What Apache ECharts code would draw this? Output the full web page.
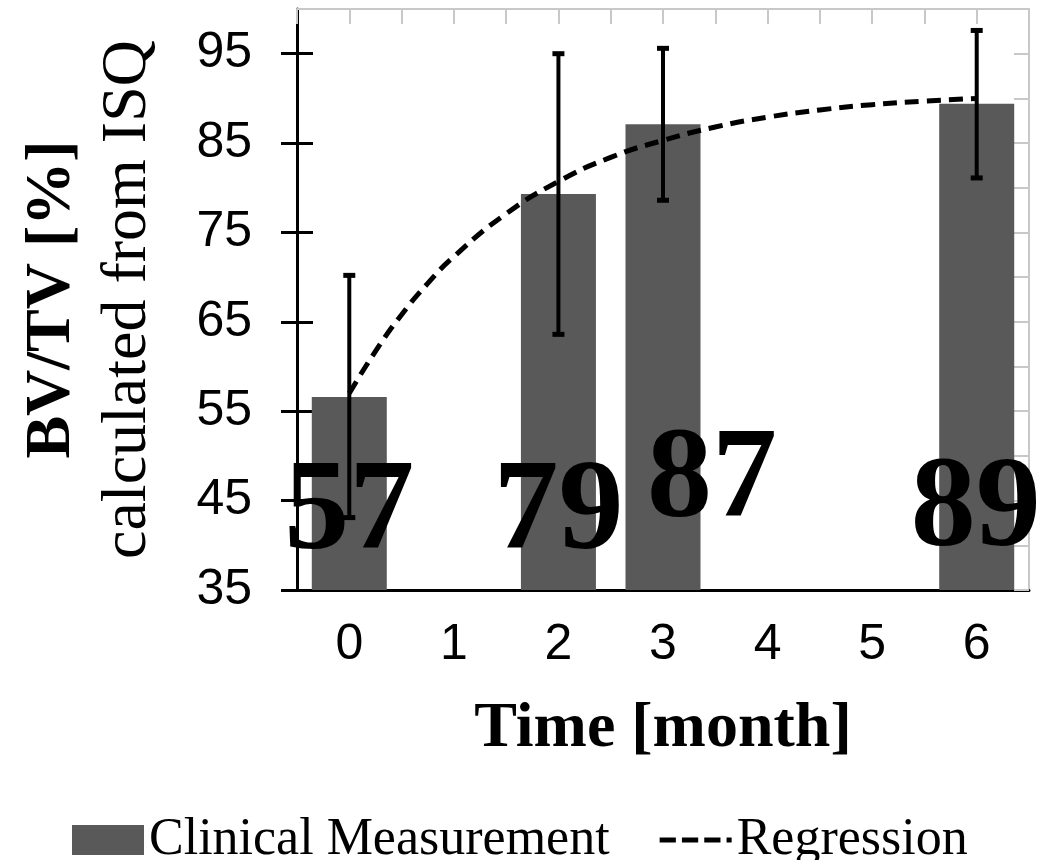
<!DOCTYPE html>
<html>
<head>
<meta charset="utf-8">
<script src="https://cdn.jsdelivr.net/npm/echarts@6/dist/echarts.min.js"></script>
<style>
html,body{margin:0;padding:0;background:#fff;}
#chart{width:1056px;height:860px;}
</style>
</head>
<body>
<div id="chart"></div>
<script>
// ---- data ----
var months = ['0', '1', '2', '3', '4', '5', '6'];
var clinical = [56.6, null, 79.3, 87.1, null, null, 89.4];
var errLow   = [43.1, null, 63.6, 78.6, null, null, 81.1];
var errHigh  = [70.2, null, 95.0, 95.6, null, null, 97.6];
var regX = [0, 0.25, 0.5, 0.75, 1, 1.5, 2, 2.5, 3, 3.5, 4, 4.5, 5, 5.5, 6];
var regY = [57.0, 61.7, 65.8, 69.3, 72.3, 77.1, 80.7, 83.4, 85.3, 86.8, 87.9, 88.7, 89.3, 89.7, 90.0];
var yTicks = [35, 45, 55, 65, 75, 85, 95];

// ---- presentation ----
var SANS = "'Liberation Sans', Arial, sans-serif";
var SERIF = "'Liberation Serif', 'Times New Roman', serif";
var labelShift = [[0, -11], null, [0, -11], [49, -43], null, null, [-1, -14]];
var dashIcon = 'path://M0,0h16v5h-16z M22,0h16v5h-16z M44,0h16v5h-16z M66,0h5v5h-5z';

var barData = clinical.map(function (v, i) {
  if (v === null) return null;
  return { value: v, label: { offset: labelShift[i] } };
});
var errData = [];
for (var i = 0; i < months.length; i++) {
  if (errLow[i] !== null) errData.push([i, errLow[i], errHigh[i]]);
}
var regData = regX.map(function (x, i) { return [x, regY[i]]; });

var chart = echarts.init(document.getElementById('chart'));
chart.setOption({
  animation: false,
  backgroundColor: '#fff',
  grid: { left: 297, right: 27, top: 9, bottom: 270 },
  legend: {
    left: 67, top: 809,
    itemWidth: 72, itemHeight: 30, itemGap: 50,
    textStyle: { fontFamily: SERIF, fontSize: 52, color: '#000' },
    data: [
      { name: 'Clinical Measurement', icon: 'rect' },
      { name: 'Regression', icon: dashIcon }
    ]
  },
  xAxis: [
    {
      type: 'category', data: months, position: 'bottom',
      axisLine: { onZero: false, lineStyle: { color: '#000', width: 3 } },
      axisTick: { show: false },
      axisLabel: { fontFamily: SANS, fontSize: 50, color: '#000', margin: 30 },
      name: 'Time [month]', nameLocation: 'middle', nameGap: 107,
      nameTextStyle: { fontFamily: SERIF, fontSize: 64, fontWeight: 'bold', color: '#000' },
      splitLine: { show: false }
    },
    {
      type: 'value', position: 'top', min: -0.5, max: 6.5, interval: 0.5,
      axisLine: { show: true, onZero: false, lineStyle: { color: '#c8c8c8', width: 2 } },
      axisTick: { show: true, inside: true, length: 15, lineStyle: { color: '#c8c8c8', width: 2 } },
      axisLabel: { show: false },
      splitLine: { show: false }
    }
  ],
  yAxis: [
    {
      type: 'value', position: 'left', min: 35, max: 100,
      axisLine: { show: true, onZero: false, lineStyle: { color: '#000', width: 3 } },
      axisTick: { show: true, length: 16, customValues: yTicks, lineStyle: { color: '#000', width: 3 } },
      axisLabel: { fontFamily: SANS, fontSize: 50, color: '#000', margin: 45, customValues: yTicks },
      splitLine: { show: false },
      name: '{b|BV/TV [%]}\n{n|calculated from ISQ}',
      nameLocation: 'middle', nameRotate: 90, nameGap: 131,
      nameTextStyle: {
        color: '#000', lineHeight: 76,
        rich: {
          b: { fontFamily: SERIF, fontSize: 64, fontWeight: 'bold', color: '#000', lineHeight: 76 },
          n: { fontFamily: SERIF, fontSize: 64, color: '#000', lineHeight: 76 }
        }
      }
    },
    {
      type: 'value', position: 'right', min: 35, max: 100, interval: 5,
      axisLine: { show: true, onZero: false, lineStyle: { color: '#c8c8c8', width: 2 } },
      axisTick: { show: true, inside: true, length: 15, lineStyle: { color: '#c8c8c8', width: 2 } },
      axisLabel: { show: false },
      splitLine: { show: false }
    },
    {
      type: 'value', position: 'left', min: 35, max: 100,
      axisLine: { show: false, onZero: false },
      axisTick: { show: true, inside: true, length: 16, customValues: yTicks, lineStyle: { color: '#000', width: 3 } },
      axisLabel: { show: false },
      splitLine: { show: false }
    }
  ],
  series: [
    {
      name: 'Clinical Measurement', type: 'bar', xAxisIndex: 0, yAxisIndex: 0,
      data: barData, barWidth: 75,
      itemStyle: { color: '#595959' },
      label: {
        show: true, position: 'insideBottom', distance: 0,
        fontFamily: SERIF, fontSize: 130, fontWeight: 'bold', color: '#000',
        formatter: function (p) { return Math.round(p.value); }
      },
      z: 2
    },
    {
      name: 'err', type: 'custom', xAxisIndex: 0, yAxisIndex: 0,
      data: errData,
      renderItem: function (params, api) {
        var x = api.value(0);
        var lo = api.coord([x, api.value(1)]);
        var hi = api.coord([x, api.value(2)]);
        var cw = 6;
        return {
          type: 'group',
          children: [
            { type: 'line', shape: { x1: lo[0], y1: lo[1], x2: hi[0], y2: hi[1] }, style: { stroke: '#000', lineWidth: 4 } },
            { type: 'line', shape: { x1: lo[0] - cw, y1: lo[1], x2: lo[0] + cw, y2: lo[1] }, style: { stroke: '#000', lineWidth: 5 } },
            { type: 'line', shape: { x1: hi[0] - cw, y1: hi[1], x2: hi[0] + cw, y2: hi[1] }, style: { stroke: '#000', lineWidth: 5 } }
          ]
        };
      },
      z: 3
    },
    {
      name: 'Regression', type: 'line', xAxisIndex: 1, yAxisIndex: 0,
      data: regData, smooth: true, symbol: 'none', showSymbol: false,
      lineStyle: { color: '#000', width: 5, type: [14, 8] },
      itemStyle: { color: '#000' },
      z: 4
    }
  ]
});
</script>
</body>
</html>
